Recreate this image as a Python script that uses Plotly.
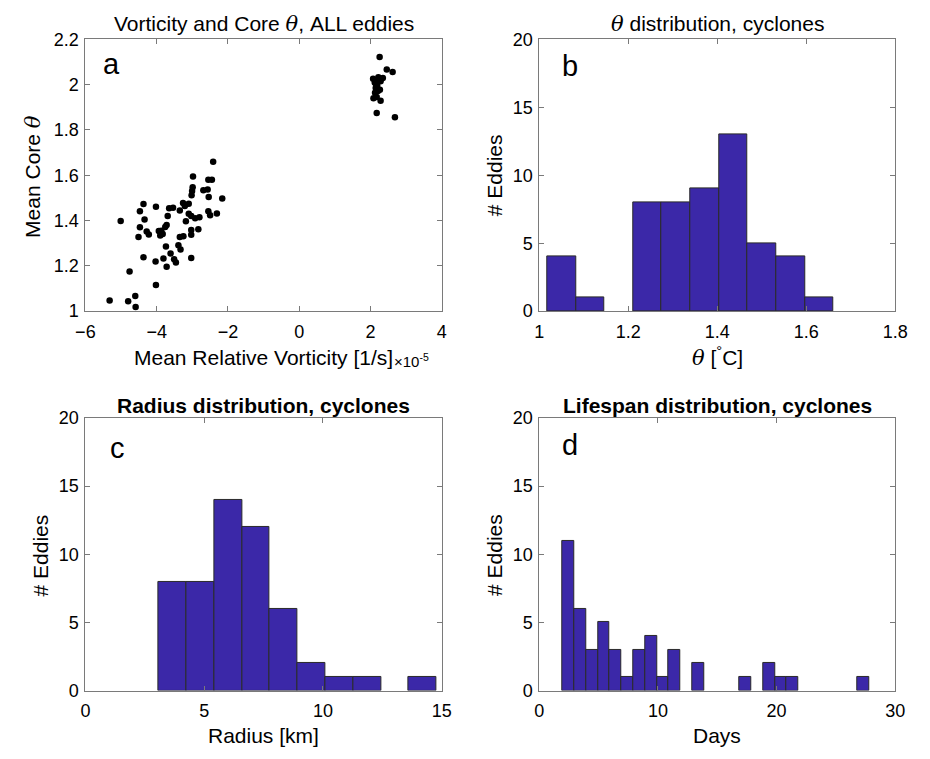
import plotly.graph_objects as go

# ---------------- data ----------------
# Panel a: mean relative vorticity (x1e-5 1/s) vs mean core theta
vorticity = [
    2.257, 2.457, 2.621, 2.073, 2.221, 2.347, 2.147, 2.284, 2.147, 2.265,
    2.128, 2.210, 2.084, 2.175, 2.284, 2.175, 2.686, 2.190, 2.240, 2.120,
    -2.415, -2.98, -2.55, -2.45, -2.99, -3.006, -2.69, -2.57, -3.02, -2.54,
    -2.16, -4.37, -4.02, -3.65, -3.54, -3.26, -3.10, -3.21, -3.35, -4.47,
    -3.69, -3.10, -3.03, -2.92, -2.80, -2.55, -2.50, -2.31, -5.01, -4.34,
    -3.18, -3.72, -3.87, -3.94, -3.83, -3.90, -3.76, -4.47, -4.28, -4.22,
    -4.51, -3.03, -3.03, -2.83, -3.35, -3.25, -3.74, -3.39, -3.33, -3.61,
    -4.37, -4.03, -3.81, -3.72, -3.51, -3.46, -3.03, -4.76, -4.02, -5.32,
    -4.80, -4.60, -4.59,
]
core_theta = [
    2.122, 2.067, 2.056, 2.026, 2.033, 2.029, 2.005, 2.015, 1.985, 1.978,
    1.964, 1.972, 1.940, 1.946, 1.929, 1.875, 1.856, 1.995, 2.020, 2.010,
    1.660, 1.595, 1.580, 1.580, 1.547, 1.530, 1.534, 1.537, 1.512, 1.504,
    1.497, 1.473, 1.461, 1.454, 1.457, 1.478, 1.474, 1.464, 1.444, 1.441,
    1.420, 1.430, 1.420, 1.410, 1.415, 1.441, 1.424, 1.431, 1.398, 1.405,
    1.397, 1.380, 1.355, 1.354, 1.341, 1.334, 1.372, 1.370, 1.352, 1.338,
    1.327, 1.358, 1.337, 1.362, 1.327, 1.331, 1.286, 1.291, 1.272, 1.255,
    1.238, 1.219, 1.233, 1.196, 1.229, 1.215, 1.235, 1.175, 1.116, 1.047,
    1.044, 1.067, 1.018,
]

# Panel b: theta histogram (cyclones)
theta_edges = [1.018, 1.0823, 1.1466, 1.2109, 1.2752, 1.3395, 1.4038,
               1.4681, 1.5324, 1.5967, 1.661]
theta_counts = [4, 1, 0, 8, 8, 9, 13, 5, 4, 1]

# Panel c: radius histogram (km)
radius_edges = [3.08, 4.25, 5.42, 6.59, 7.76, 8.93, 10.10, 11.27, 12.44,
                13.61, 14.78]
radius_counts = [8, 8, 14, 12, 6, 2, 1, 1, 0, 1]

# Panel d: lifespan histogram (days)
life_start = 1.95
life_width = 0.995
life_counts = [11, 6, 3, 5, 3, 1, 3, 4, 1, 3, 0, 2, 0, 0, 0, 1, 0, 2, 1, 1,
               0, 0, 0, 0, 0, 1]

# ---------------- styling ----------------
W, H = 930, 759
FONT = "Liberation Sans, Arial, Helvetica, sans-serif"
BAR = "#3b28a8"
BAR_EDGE = "#2a2a2a"
AX = "#7a7a7a"
TICK_SIZE = 18
LABEL_SIZE = 21


def px(x):
    return x / W


def py(y):
    return 1 - y / H


fig = go.Figure()

fig.add_trace(go.Scatter(
    x=vorticity, y=core_theta, mode="markers",
    marker=dict(color="black", size=6.5),
    xaxis="x", yaxis="y", showlegend=False))


def hist_trace(edges, counts, xa, ya):
    centers = [(edges[i] + edges[i + 1]) / 2 for i in range(len(counts))]
    widths = [edges[i + 1] - edges[i] for i in range(len(counts))]
    lw = [1 if c > 0 else 0 for c in counts]
    return go.Bar(x=centers, y=counts, width=widths,
                  marker=dict(color=BAR, line=dict(color=BAR_EDGE, width=lw)),
                  xaxis=xa, yaxis=ya, showlegend=False)


life_edges = [life_start + i * life_width for i in range(len(life_counts) + 1)]

fig.add_trace(hist_trace(theta_edges, theta_counts, "x2", "y2"))
fig.add_trace(hist_trace(radius_edges, radius_counts, "x3", "y3"))
fig.add_trace(hist_trace(life_edges, life_counts, "x4", "y4"))

left = [px(77.3), px(442.7)]
right = [px(542.7), px(907.7)]
top = [py(309.3), py(30.2)]
bottom = [py(699), py(419)]

axcommon = dict(showline=True, linecolor=AX, linewidth=1, mirror="ticks",
                ticks="inside", ticklen=5, tickcolor=AX, showgrid=False,
                zeroline=False, tickfont=dict(size=TICK_SIZE, color="black"))
xcommon = dict(ticklabelstandoff=4, **axcommon)
ycommon = dict(ticklabelstandoff=2, **axcommon)

fig.update_layout(
    width=W, height=H,
    margin=dict(l=0, r=0, t=0, b=0),
    paper_bgcolor="white", plot_bgcolor="white",
    font=dict(family=FONT, size=TICK_SIZE, color="black"),
    bargap=0,
    xaxis=dict(domain=left, anchor="y", range=[-6, 4], dtick=2, **xcommon),
    yaxis=dict(domain=top, anchor="x", range=[1, 2.2], dtick=0.2, **ycommon),
    xaxis2=dict(domain=right, anchor="y2", range=[1, 1.8], dtick=0.2, **xcommon),
    yaxis2=dict(domain=top, anchor="x2", range=[0, 20], dtick=5, **ycommon),
    xaxis3=dict(domain=left, anchor="y3", range=[0, 15], dtick=5, **xcommon),
    yaxis3=dict(domain=bottom, anchor="x3", range=[0, 20], dtick=5, **ycommon),
    xaxis4=dict(domain=right, anchor="y4", range=[0, 30], dtick=10, **xcommon),
    yaxis4=dict(domain=bottom, anchor="x4", range=[0, 20], dtick=5, **ycommon),
)

TH = "<span style='font-family:DejaVu Serif, serif'><i>θ</i></span>"


def ann(text, x, y, size=LABEL_SIZE, angle=0, xanchor="center"):
    fig.add_annotation(text=text, x=px(x), y=py(y), xref="paper", yref="paper",
                       showarrow=False, font=dict(size=size, color="black"),
                       textangle=angle, xanchor=xanchor, yanchor="middle")


# titles
ann(f"Vorticity and Core {TH}, ALL eddies", 260, 14)
ann(f"{TH} distribution, cyclones", 725, 14)
ann("<b>Radius distribution, cyclones</b>", 260, 406)
ann("<b>Lifespan distribution, cyclones</b>", 725, 406)

# axis labels
ann("Mean Relative Vorticity [1/s]", 260, 357)
ann("×10<sup>-5</sup>", 392, 360, size=15, xanchor="left")
ann(f"{TH} [<sup>°</sup>C]", 725, 356)
ann("Radius [km]", 260, 745)
ann("Days", 725, 745)
ann(f"Mean Core {TH}", 24, 171, angle=-90)
ann("# Eddies", 497, 170, angle=-90)
ann("# Eddies", 31, 560, angle=-90)
ann("# Eddies", 497, 560, angle=-90)

# panel letters
ann("a", 104, 55, size=29)
ann("b", 574, 58, size=29)
ann("c", 110, 450, size=29)
ann("d", 574, 447, size=29)

fig.write_html("out.html")
